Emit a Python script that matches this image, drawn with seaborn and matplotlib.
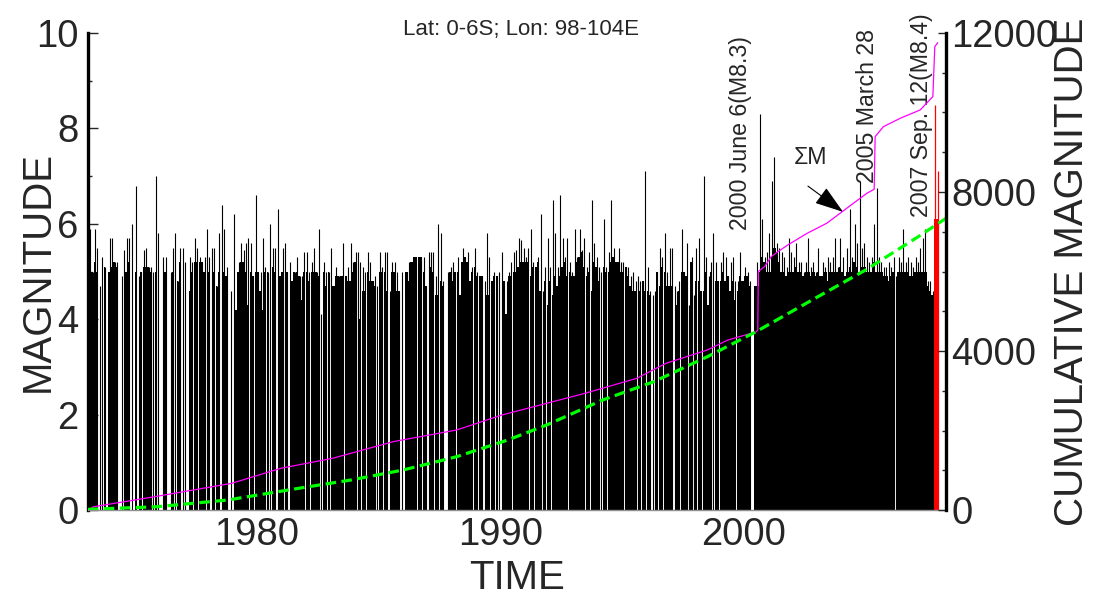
import numpy as np
import matplotlib
matplotlib.use("Agg")
import matplotlib.pyplot as plt
from matplotlib.ticker import MultipleLocator
import seaborn as sns

# magnitude per 0.1-year bin (solid part) and tallest event in the bin
body_70s = [5.0, 5.2, 5.0, 5.2, 5.0, 0, 0, 5.1, 0, 5.0,
            5.1, 5.2, 5.1, 0, 0, 0, 5.0, 5.2, 0, 0,
            5.0, 0, 5.0, 5.1, 5.1, 5.1, 5.0, 0, 5.0, 0,
            0, 0, 5.0, 0, 0, 5.0, 0, 4.8, 5.2, 0,
            0, 0, 4.6, 5.0, 5.2, 5.2, 5.2, 5.2, 5.0, 0,
            5.0, 0, 5.0, 4.7, 5.0, 0, 5.0, 4.9, 0, 0,
            0, 4.2, 5.0, 5.2, 5.2, 5.0, 4.3, 5.0, 4.9, 5.0]
peak_70s = [5.2, 5.9, 5.0, 5.9, 5.5, 4.7, 5.3, 5.1, 0, 5.7,
            5.7, 5.2, 5.2, 0, 4.9, 5.45, 5.7, 5.7, 6.0, 0,
            6.8, 4.9, 5.0, 5.45, 5.5, 5.1, 5.1, 5.0, 7.0, 5.8,
            0, 5.3, 5.3, 0, 5.0, 5.5, 5.8, 4.8, 5.5, 5.5,
            5.2, 0, 5.3, 5.2, 5.7, 5.5, 5.3, 5.2, 5.3, 5.9,
            5.3, 5.5, 5.5, 4.7, 5.8, 6.4, 5.9, 5.1, 0, 4.6,
            6.2, 4.2, 5.2, 5.6, 5.45, 5.6, 5.7, 5.6, 4.9, 6.6]

body_80s = [5.0, 4.6, 4.2, 5.0, 5.0, 0, 5.1, 5.0, 0, 4.9,
            5.0, 0, 5.0, 0, 4.8, 5.0, 5.0, 4.9, 4.4, 5.0,
            5.0, 4.8, 5.0, 5.0, 5.0, 4.9, 0, 5.0, 4.7, 5.0,
            0, 4.7, 4.9, 4.9, 4.9, 4.9, 4.9, 4.8, 4.8, 5.0,
            5.2, 0, 4.0, 4.6, 4.6, 5.0, 4.8, 4.8, 4.7, 0,
            5.0, 5.0, 5.0, 4.6, 0, 5.0, 5.0, 4.6, 4.6, 0,
            0, 5.0, 4.8, 5.2, 5.3, 5.3, 5.3, 5.3, 5.0, 4.7,
            0, 5.1, 5.0, 4.5, 4.5, 4.8, 4.7, 0, 0, 5.0,
            4.8, 5.0, 5.0, 4.5, 5.2, 5.3, 5.2, 4.8, 5.0, 5.1,
            4.9, 4.9, 4.9, 0, 4.5, 4.5, 4.8, 4.9, 4.9, 0]
peak_80s = [5.0, 5.0, 5.7, 5.1, 5.0, 6.0, 5.5, 5.5, 6.3, 4.9,
            5.5, 5.6, 5.0, 5.2, 4.8, 5.0, 5.3, 4.9, 4.9, 5.4,
            5.4, 5.0, 5.2, 5.5, 5.0, 5.9, 4.1, 5.2, 5.0, 5.0,
            5.5, 4.7, 5.1, 4.9, 4.9, 5.6, 4.9, 5.1, 5.6, 5.2,
            5.4, 5.4, 5.2, 5.1, 5.0, 5.4, 5.2, 4.8, 4.9, 4.7,
            5.4, 5.1, 5.4, 5.4, 4.6, 5.2, 5.2, 5.0, 4.6, 5.0,
            0, 5.0, 5.2, 5.2, 5.3, 5.3, 5.3, 5.3, 5.3, 4.7,
            5.4, 5.4, 5.4, 4.9, 6.0, 5.8, 4.8, 0, 5.0, 5.1,
            5.2, 5.0, 5.3, 4.5, 5.5, 5.3, 5.4, 4.8, 5.1, 5.5,
            5.0, 4.9, 4.9, 4.8, 5.8, 5.3, 4.8, 5.0, 4.9, 5.0]

body_90s = [0, 4.8, 4.1, 4.9, 4.9, 5.0, 5.0, 5.1, 5.2, 5.2,
            5.2, 5.2, 4.9, 5.1, 5.1, 5.2, 4.6, 0, 4.8, 4.3,
            4.8, 4.5, 4.9, 4.7, 4.9, 5.1, 5.2, 4.9, 5.0, 4.9,
            4.9, 5.2, 5.3, 5.4, 5.1, 4.9, 5.0, 4.6, 5.2, 5.1,
            4.8, 0, 5.1, 5.0, 5.0, 5.2, 5.3, 5.2, 5.2, 5.0,
            5.0, 5.1, 4.9, 4.7, 4.6, 4.6, 0, 4.6, 4.8, 4.6,
            4.6, 4.5, 0, 0, 5.0, 4.7, 5.1, 5.0, 4.7, 4.7,
            4.7, 0, 4.3, 4.6, 5.0, 5.0, 4.9, 0, 5.2, 0,
            4.8, 4.8, 4.6, 4.6, 5.0, 4.3, 5.0, 0, 4.8, 4.8,
            4.8, 5.0, 4.8, 4.9, 4.6, 4.8, 4.4, 4.6, 4.9, 4.8]
peak_90s = [5.4, 4.8, 4.8, 5.0, 5.2, 5.4, 5.45, 5.7, 5.66, 5.5,
            5.3, 5.5, 5.9, 5.2, 5.1, 5.3, 6.2, 4.6, 5.1, 5.7,
            5.1, 6.5, 5.8, 5.1, 6.6, 5.7, 5.3, 5.7, 5.2, 5.0,
            5.9, 5.3, 5.9, 5.45, 5.7, 5.1, 5.4, 6.5, 5.6, 5.3,
            5.1, 5.0, 6.1, 5.1, 5.4, 6.5, 5.5, 5.2, 5.5, 5.2,
            5.2, 5.1, 5.1, 4.9, 5.0, 4.8, 4.9, 4.8, 4.8, 7.1,
            5.1, 4.6, 4.5, 4.6, 5.0, 5.5, 5.3, 5.8, 5.0, 5.5,
            5.5, 4.7, 4.6, 4.8, 5.9, 5.0, 5.6, 4.3, 5.3, 4.5,
            5.5, 5.7, 4.6, 7.0, 5.3, 4.9, 5.2, 5.8, 5.2, 4.8,
            5.2, 5.4, 5.3, 4.9, 5.2, 5.3, 4.8, 4.8, 5.4, 4.8]

body_00s = [4.9, 4.9, 4.7, 0, 4.7, 4.7, 5.0, 5.3, 5.2, 5.0,
            5.0, 5.3, 5.5, 5.4, 5.2, 5.0, 5.0, 4.9, 5.0, 5.0,
            5.0, 5.1, 5.0, 5.0, 4.9, 5.0, 5.0, 4.9, 5.0, 4.9,
            5.0, 4.9, 4.9, 5.0, 4.8, 5.0, 5.0, 5.0, 5.0, 5.1,
            5.0, 4.9, 5.0, 5.1, 5.0, 5.2, 5.1, 5.0, 5.1, 5.1,
            5.0, 5.0, 5.0, 5.2, 5.0, 5.0, 5.0, 4.9, 4.9, 4.8,
            4.9, 5.0, 0, 5.0, 5.0, 5.0, 5.0, 5.0, 4.9, 4.9,
            5.0, 5.0, 5.0, 5.0, 5.0, 4.7, 4.6, 4.5, 0, 0]
peak_00s = [5.1, 5.0, 4.8, 0, 4.7, 5.2, 8.3, 6.1, 5.3, 5.4,
            5.8, 6.9, 7.4, 5.6, 5.5, 5.4, 5.3, 5.1, 5.7, 5.4,
            5.3, 5.6, 5.2, 5.2, 5.0, 5.2, 5.7, 5.1, 5.2, 5.0,
            5.5, 4.9, 5.2, 5.1, 5.3, 5.2, 5.3, 5.7, 5.1, 5.7,
            5.3, 4.9, 5.5, 6.3, 5.3, 6.0, 5.6, 6.9, 5.5, 5.6,
            5.3, 5.2, 5.3, 6.0, 6.75, 5.3, 5.2, 5.1, 5.1, 5.2,
            5.1, 5.3, 4.9, 5.3, 5.2, 5.9, 5.2, 5.3, 5.2, 5.1,
            5.3, 5.2, 5.5, 5.7, 5.9, 4.8, 4.8, 4.6, 0, 0]

# 2007 Sep. 12 sequence (red)
red_body_year = [2007.82]
red_body_mag = [6.1]
red_spike_years = [2007.86, 2007.96]
red_spike_mags = [8.5, 7.1]

# cumulative magnitude (right axis)
cum_years = [1973.06, 1973.3, 1975.8, 1978.96, 1980.97, 1983.1, 1985.6, 1988.2,
             1990.06, 1991.9, 1993.47, 1995.6, 1996.8, 1998.5, 1999.34, 2000.5,
             2000.57, 2000.59, 2000.85, 2001.12, 2001.4, 2001.8, 2002.6, 2003.4,
             2003.95, 2004.5, 2005.05, 2005.35, 2005.39, 2005.73, 2006.42, 2007.24,
             2007.76, 2007.84, 2007.96]
cum_values = [0, 83, 335, 671, 1048, 1300, 1720, 2013,
              2390, 2684, 2935, 3313, 3690, 4026, 4277, 4480,
              4529, 6000, 6122, 6373, 6499, 6667, 6962, 7213,
              7465, 7717, 7968, 8069, 9393, 9644, 9855, 10064,
              10400, 11657, 11757]

# fitted trend (green dashed)
fit_years = [1973.05, 1975.9, 1978.8, 1981.7, 1983.86, 1986.0, 1988.2, 1990.3,
             1991.9, 1994.2, 1996.3, 1998.5, 2000.5, 2002.8, 2005.0, 2007.16, 2008.3]
fit_values = [17, 83, 252, 545, 755, 1006, 1341, 1761,
              2139, 2768, 3228, 3857, 4486, 5284, 6038, 6876, 7339]

sns.set_style("white")
plt.rcParams['font.family'] = ['Liberation Sans', 'DejaVu Sans']

body = np.array(body_70s + body_80s + body_90s + body_00s)
peak = np.array(peak_70s + peak_80s + peak_90s + peak_00s)
bin_start = 1973.0 + 0.1 * np.arange(len(body))
widths = np.where(bin_start < 1983, 0.072, np.where(bin_start < 2000, 0.088, 0.1))

fig = plt.figure(figsize=(11, 6.01), dpi=100, facecolor='white')
ax = fig.add_axes([0.08, 0.1514, 0.78, 0.7937])

ax.bar(bin_start, body, width=widths, align='edge', color='black', linewidth=0)
ax.vlines(bin_start + 0.05, 0, peak, color='black', linewidth=0.8)
ax.bar(red_body_year, red_body_mag, width=0.15, align='edge', color='red', linewidth=0)
ax.vlines(red_spike_years, 0, red_spike_mags, color='red', linewidth=0.9)

ax.set_xlim(1973.06, 2008.3)
ax.set_ylim(0, 10)
ax.set_xticks([1980, 1990, 2000])
ax.set_yticks([0, 2, 4, 6, 8, 10])
ax.yaxis.set_minor_locator(MultipleLocator(1))
ax.tick_params(axis='x', length=0, labelsize=27.5, pad=5)
ax.tick_params(axis='y', which='major', direction='in', length=7, width=1,
               labelsize=27.5, pad=7, left=True)
ax.tick_params(axis='y', which='minor', direction='in', length=3, width=1, left=True)
ax.set_xlabel('TIME', fontsize=29, labelpad=4)
ax.set_ylabel('MAGNITUDE', fontsize=29)
ax.yaxis.set_label_coords(-0.036, 0.5)

ax.spines['top'].set_visible(False)
ax.spines['right'].set_visible(False)
ax.spines['left'].set_linewidth(2.4)
ax.spines['left'].set_color('black')
ax.spines['bottom'].set_linewidth(1)
ax.spines['bottom'].set_color('#909090')

ax2 = ax.twinx()
sns.lineplot(x=cum_years, y=cum_values, ax=ax2, color='#ff00ff', linewidth=0.9,
             estimator=None, sort=False)
sns.lineplot(x=fit_years, y=fit_values, ax=ax2, color='#00ff00', linewidth=2.3,
             estimator=None, sort=False)
ax2.lines[-1].set_dashes([3.3, 1.7])
ax2.set_ylim(0, 12000)
ax2.set_yticks([0, 4000, 8000, 12000])
ax2.yaxis.set_minor_locator(MultipleLocator(1000))
ax2.tick_params(axis='y', which='major', direction='in', length=6, width=1,
                labelsize=27.5, pad=4, right=True)
ax2.tick_params(axis='y', which='minor', direction='in', length=3, width=1, right=True)
ax2.set_ylabel('CUMULATIVE MAGNITUDE', fontsize=29)
ax2.yaxis.set_label_coords(1.125, 0.5)
for side in ['top', 'left', 'bottom']:
    ax2.spines[side].set_visible(False)
ax2.spines['right'].set_linewidth(2.4)
ax2.spines['right'].set_color('black')

# event labels
ax.text(1999.86, 5.87, '2000 June 6(M8.3)', rotation=90, ha='center', va='bottom', fontsize=16.7)
ax.text(2005.09, 6.86, '2005 March 28', rotation=90, ha='center', va='bottom', fontsize=16.7)
ax.text(2007.31, 6.14, '2007 Sep. 12(M8.4)', rotation=90, ha='center', va='bottom',
        fontsize=16.7, clip_on=False)
ax2.text(2002.75, 7.38 * 1200, 'ΣM', ha='center', va='center', fontsize=16.7)
ax2.annotate('', xy=(2004.07, 6.25 * 1200), xytext=(2002.63, 6.79 * 1200),
             arrowprops=dict(arrowstyle='-|>,head_length=0.9,head_width=0.3',
                             color='black', lw=0.8, mutation_scale=20, shrinkA=0, shrinkB=0))

fig.text(521 / 1100, 1 - 30 / 601, 'Lat: 0-6S; Lon: 98-104E', ha='center', va='center',
         fontsize=16)

fig.savefig('out.png', dpi=100, facecolor='white')
